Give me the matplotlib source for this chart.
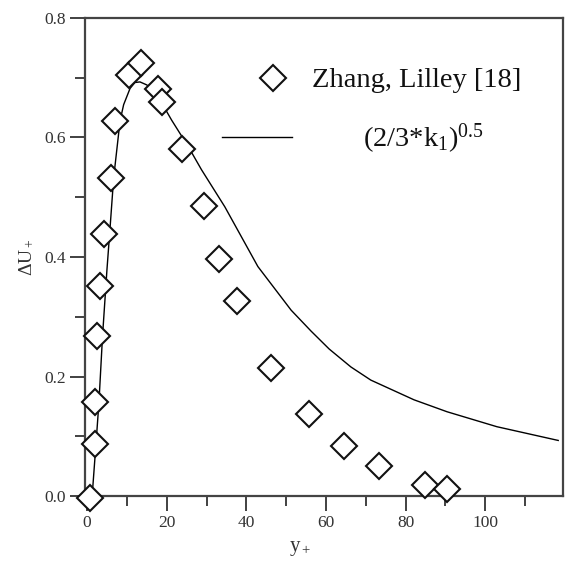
import numpy as np
import matplotlib
matplotlib.use("Agg")
import matplotlib.pyplot as plt
from matplotlib.ticker import MultipleLocator, FormatStrFormatter

plt.rcParams['font.family'] = ['Liberation Serif', 'DejaVu Serif']
plt.rcParams['mathtext.fontset'] = 'custom'
plt.rcParams['mathtext.rm'] = 'Liberation Serif'
plt.rcParams['mathtext.it'] = 'Liberation Serif:italic'

# Zhang, Lilley [18] measurements
exp_y = [0.8, 2.1, 1.9, 2.5, 3.2, 4.3, 6.0, 7.1, 10.6, 13.5, 17.75, 18.75,
         23.75, 29.25, 33.2, 37.6, 46.2, 55.7, 64.6, 73.4, 84.75, 90.4]
exp_du = [-0.004, 0.087, 0.157, 0.268, 0.351, 0.438, 0.533, 0.628, 0.705,
          0.724, 0.681, 0.660, 0.580, 0.486, 0.396, 0.327, 0.214, 0.138,
          0.083, 0.051, 0.018, 0.011]

# model curve (2/3*k1)^0.5
mod_y = [0.6, 1.4, 2.25, 3.0, 3.9, 5.0, 5.8, 6.7, 8.3, 9.2, 10.8, 12.0,
         13.3, 15.0, 17.1, 21.25, 25.4, 28.75, 34.6, 42.9, 51.25, 56.25,
         60.8, 66.25, 71.25, 82.1, 90.4, 102.9, 118.3]
mod_du = [0.0, 0.01, 0.087, 0.157, 0.268, 0.378, 0.45, 0.533, 0.628, 0.655,
          0.682, 0.692, 0.693, 0.688, 0.677, 0.629, 0.585, 0.546, 0.484,
          0.384, 0.311, 0.276, 0.246, 0.216, 0.194, 0.161, 0.141, 0.116,
          0.093]

fig = plt.figure(figsize=(5.66, 5.62), dpi=100)
ax = fig.add_axes([0.1502, 0.1174, 0.8445, 0.8506])

diamond = dict(linestyle='none', marker='D', markersize=13,
               markerfacecolor='white', markeredgecolor='#111111',
               markeredgewidth=1.5)
ax.plot(exp_y, exp_du, clip_on=False, zorder=3, **diamond)
ax.plot(mod_y, mod_du, color='black', linewidth=1.0, zorder=2)

ax.set_xlim(-0.5, 119.5)
ax.set_ylim(0, 0.8)
ax.xaxis.set_major_locator(MultipleLocator(20))
ax.xaxis.set_minor_locator(MultipleLocator(10))
ax.yaxis.set_major_locator(MultipleLocator(0.2))
ax.yaxis.set_minor_locator(MultipleLocator(0.1))
ax.yaxis.set_major_formatter(FormatStrFormatter('%.1f'))
ax.set_xticks([0, 20, 40, 60, 80, 100])
ax.tick_params(which='major', length=11, width=1.3, labelsize=12.5,
               direction='out', color='#333333', labelcolor='#333333', pad=3)
ax.tick_params(which='minor', length=7, width=1.3, direction='out',
               color='#333333')

for s in ax.spines.values():
    s.set_linewidth(1.6)
    s.set_color('#444444')

ax.set_xlabel(r'y$_+$', fontsize=15, color='#333333', va='center')
ax.xaxis.set_label_coords(0.45, -0.109)
ax.set_ylabel(r'$\Delta$U$_+$', fontsize=14, color='#333333', va='center')
ax.yaxis.set_label_coords(-0.121, 0.5)

# legend drawn by hand in axes coordinates
tr = ax.transAxes
ax.plot([0.3933], [0.8745], transform=tr, clip_on=False, **diamond)
ax.text(0.475, 0.855, 'Zhang, Lilley [18]', transform=tr, fontsize=20.5,
        va='baseline', ha='left', color='#111111')
ax.plot([0.2866, 0.4331], [0.751, 0.751], transform=tr, color='black',
        linewidth=1.0)
ax.text(0.5816, 0.730, r'(2/3*k$_1$)$^{0.5}$', transform=tr, fontsize=20.5,
        va='baseline', ha='left', color='#111111')

fig.savefig('out.png', dpi=100)
